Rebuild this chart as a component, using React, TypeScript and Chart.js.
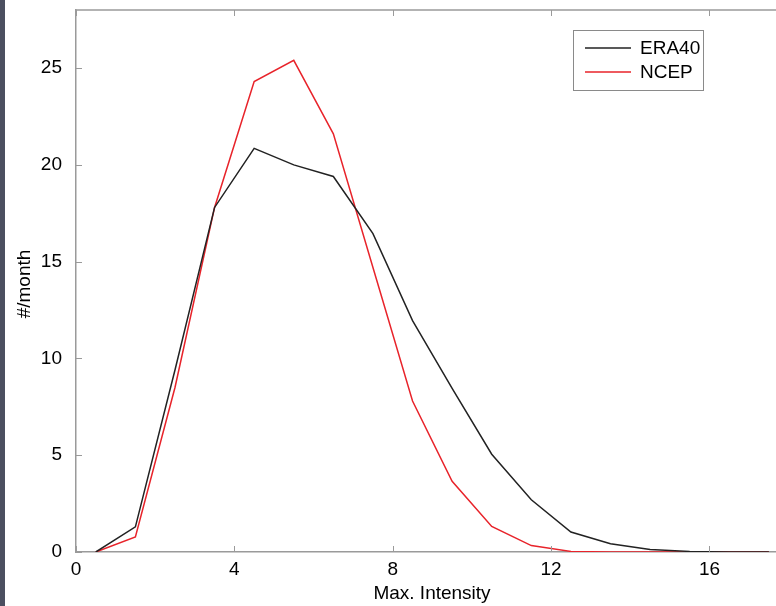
import React, { useEffect, useRef } from "react";
import { Chart, registerables } from "chart.js";

Chart.register(...registerables);

const binCenters = [0.5, 1.5, 2.5, 3.5, 4.5, 5.5, 6.5, 7.5, 8.5, 9.5, 10.5, 11.5, 12.5, 13.5, 14.5, 15.5, 16.5, 17.5];
const era40 = [0, 1.3, 9.4, 17.8, 20.85, 20.0, 19.4, 16.45, 11.95, 8.45, 5.05, 2.7, 1.03, 0.43, 0.13, 0.03, 0, 0];
const ncep = [0, 0.78, 8.5, 17.8, 24.3, 25.4, 21.6, 14.7, 7.8, 3.65, 1.32, 0.33, 0.03, 0, 0, 0, 0, 0];
const xTicks = [0, 4, 8, 12, 16];
const yTicks = [0, 5, 10, 15, 20, 25];
const seriesNames = ["ERA40", "NCEP"];
const seriesColors = ["#222222", "#e8232a"];

const FAMILY = "'Liberation Sans', Arial, sans-serif";
const FONT = "19px " + FAMILY;
const AXIS_COLOR = "#9a9a9a";
const TEXT_COLOR = "#000000";

const framePlugin = {
  id: "frame",
  afterDraw(chart: any) {
    const { ctx, chartArea } = chart;
    const xs = chart.scales.x;
    const ys = chart.scales.y;
    const { left, right, top, bottom } = chartArea;
    ctx.save();
    ctx.strokeStyle = AXIS_COLOR;
    ctx.lineWidth = 1.5;
    ctx.beginPath();
    ctx.moveTo(left, top);
    ctx.lineTo(right, top);
    ctx.stroke();
    ctx.lineWidth = 1;
    xTicks.forEach((v) => {
      const px = Math.round(xs.getPixelForValue(v)) + 0.5;
      ctx.beginPath();
      ctx.moveTo(px, bottom);
      ctx.lineTo(px, bottom - 6);
      ctx.moveTo(px, top);
      ctx.lineTo(px, top + 6);
      ctx.stroke();
    });
    yTicks.forEach((v) => {
      const py = Math.round(ys.getPixelForValue(v)) + 0.5;
      ctx.beginPath();
      ctx.moveTo(left, py);
      ctx.lineTo(left + 6, py);
      ctx.stroke();
    });
    ctx.fillStyle = TEXT_COLOR;
    ctx.font = FONT;
    ctx.textAlign = "center";
    ctx.textBaseline = "middle";
    ctx.fillText("Max. Intensity", 432, 594);
    ctx.save();
    ctx.translate(25, 284);
    ctx.rotate(-Math.PI / 2);
    ctx.fillText("#/month", 0, 0);
    ctx.restore();
    const bx = 573, by = 30, bw = 130, bh = 60;
    ctx.fillStyle = "#ffffff";
    ctx.fillRect(bx, by, bw, bh);
    ctx.strokeStyle = "#8a8a8a";
    ctx.lineWidth = 1;
    ctx.strokeRect(bx + 0.5, by + 0.5, bw, bh);
    seriesNames.forEach((name, i) => {
      const y = 48 + i * 24;
      ctx.strokeStyle = seriesColors[i];
      ctx.lineWidth = 1.3;
      ctx.beginPath();
      ctx.moveTo(585, y);
      ctx.lineTo(631, y);
      ctx.stroke();
      ctx.fillStyle = TEXT_COLOR;
      ctx.textAlign = "left";
      ctx.fillText(name, 640, y + 1);
    });
    ctx.restore();
  },
};

export default function App() {
  const canvasRef = useRef<HTMLCanvasElement | null>(null);

  useEffect(() => {
    const canvas = canvasRef.current;
    if (!canvas) return;
    const chart = new Chart(canvas, {
      type: "line",
      data: {
        datasets: seriesNames.map((name, i) => ({
          label: name,
          data: binCenters.map((x, j) => ({ x, y: (i === 0 ? era40 : ncep)[j] })),
          borderColor: seriesColors[i],
          borderWidth: 1.5,
          pointRadius: 0,
          tension: 0,
          fill: false,
        })),
      },
      options: {
        animation: false,
        responsive: false,
        maintainAspectRatio: false,
        layout: { padding: { top: 10, right: 0, left: 0, bottom: 0 } },
        plugins: {
          legend: { display: false },
          tooltip: { enabled: false },
        },
        scales: {
          x: {
            type: "linear",
            min: 0,
            max: 17.68,
            afterFit: (s: any) => {
              s.height = 54;
              s.paddingLeft = 0;
              s.paddingRight = 0;
            },
            afterBuildTicks: (s: any) => {
              s.ticks = xTicks.map((v) => ({ value: v }));
            },
            grid: { display: false },
            border: { display: true, color: AXIS_COLOR, width: 1.5 },
            ticks: {
              color: TEXT_COLOR,
              font: { family: FAMILY, size: 19 },
              padding: -2,
              maxRotation: 0,
              autoSkip: false,
            },
          },
          y: {
            min: 0,
            max: 28,
            afterFit: (s: any) => {
              s.width = 76;
              s.paddingTop = 0;
              s.paddingBottom = 0;
            },
            afterBuildTicks: (s: any) => {
              s.ticks = yTicks.map((v) => ({ value: v }));
            },
            grid: { display: false },
            border: { display: true, color: AXIS_COLOR, width: 1.5 },
            ticks: {
              color: TEXT_COLOR,
              font: { family: FAMILY, size: 19 },
              padding: 6,
            },
          },
        },
      },
      plugins: [framePlugin],
    });
    return () => chart.destroy();
  }, []);

  return (
    <div style={{ position: "absolute", left: 0, top: 0, width: 776, height: 606, background: "#ffffff", overflow: "hidden" }}>
      <div style={{ position: "absolute", left: 0, top: 0, width: 5, height: 606, background: "#4b4f60" }} />
      <canvas ref={canvasRef} width={776} height={606} style={{ display: "block", width: 776, height: 606 }} />
    </div>
  );
}
